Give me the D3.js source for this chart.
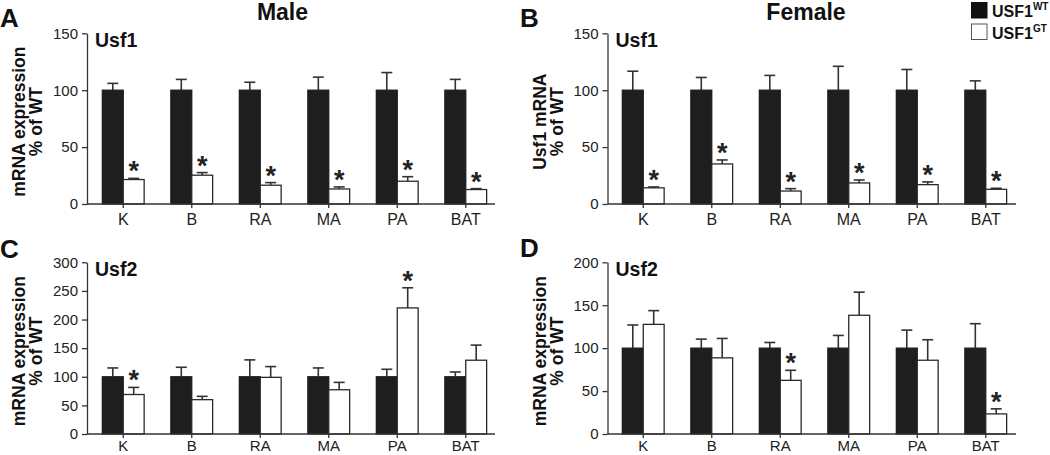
<!DOCTYPE html>
<html><head><meta charset="utf-8">
<script src="https://cdn.jsdelivr.net/npm/d3@7"></script>
<style>
html,body{margin:0;padding:0;background:#fff;}
svg{display:block;font-family:"Liberation Sans",Arial,Helvetica,sans-serif;}
</style></head>
<body>
<svg id="chart" width="1050" height="455"></svg>
<script>
// ---- data ----
const categories = ["K","B","RA","MA","PA","BAT"];
const seriesNames = ["USF1", "USF1"];
const seriesSup = ["WT", "GT"];

// A: Male Usf1
const maleUsf1WT = [100,100,100,100,100,100];
const maleUsf1WTerr = [6,9.5,7,11.5,15.5,9.5];
const maleUsf1GT = [21.5,25.3,16.5,13.2,20,12.7];
const maleUsf1GTerr = [1,2.3,2.3,1.8,4,0.8];
const maleUsf1Sig = [1,1,1,1,1,1];

// B: Female Usf1
const femaleUsf1WT = [100,100,100,100,100,100];
const femaleUsf1WTerr = [16.7,11.2,13,21,18.2,8.2];
const femaleUsf1GT = [14.2,35.2,11.4,18.5,17,12.9];
const femaleUsf1GTerr = [0.8,3.5,2.1,2.6,2.4,0.9];
const femaleUsf1Sig = [1,1,1,1,1,1];

// C: Male Usf2
const maleUsf2WT = [100,100,100,100,100,100];
const maleUsf2WTerr = [15.4,16.6,29.5,15.4,13.1,8.4];
const maleUsf2GT = [69,60,99,77.3,220.3,128.9];
const maleUsf2GTerr = [12.4,5.8,18.8,12.9,35.2,26.4];
const maleUsf2Sig = [1,0,0,0,1,0];

// D: Female Usf2
const femaleUsf2WT = [100,100,100,100,100,100];
const femaleUsf2WTerr = [27,10.5,6.6,14.8,21,28.5];
const femaleUsf2GT = [127.7,88.7,62.5,138.3,85.9,23.4];
const femaleUsf2GTerr = [16,22.6,11.7,26.9,23.9,5.9];
const femaleUsf2Sig = [0,0,1,0,0,1];

const ticksUsf1 = [0,50,100,150];
const ticksMaleUsf2 = [0,50,100,150,200,250,300];
const ticksFemaleUsf2 = [0,50,100,150,200];

// ---- drawing ----
const svg = d3.select("#chart");
const ink = "#1e1e1e";

function panel(o){
  const g = svg.append("g");
  const x = d3.scaleBand().domain(categories).range(o.xr).paddingInner(0.39).paddingOuter(0.195);
  const sub = d3.scaleBand().domain([0,1]).range([0, x.bandwidth()]);
  const y = d3.scaleLinear().domain([0, o.max]).range(o.yr);

  const rows = categories.map((c,i)=>({c, i, vals:[o.wt[i], o.gt[i]], errs:[o.wtErr[i], o.gtErr[i]], sig:o.sig[i]}));
  rows.forEach(r=>{
    [0,1].forEach(s=>{
      const bx = x(r.c) + sub(s);
      const bw = sub.bandwidth();
      const cx = bx + bw/2;
      const top = y(r.vals[s] + r.errs[s]);
      g.append("line").attr("x1",cx).attr("x2",cx).attr("y1",y(r.vals[s])).attr("y2",top)
        .attr("stroke","#333").attr("stroke-width",1.6);
      g.append("line").attr("x1",cx-5.5).attr("x2",cx+5.5).attr("y1",top).attr("y2",top)
        .attr("stroke","#333").attr("stroke-width",1.6);
      g.append("rect").attr("x",bx).attr("y",y(r.vals[s])).attr("width",bw)
        .attr("height",y(0)-y(r.vals[s]))
        .attr("fill", s===0 ? ink : "#fff")
        .attr("stroke", s===0 ? ink : "#2a2a2a").attr("stroke-width", 1.3);
      if(s===1 && r.sig){
        g.append("text").attr("x",cx).attr("y",top+2).attr("text-anchor","middle")
          .attr("font-size",27).attr("font-weight","bold").attr("fill","#222").text("*");
      }
    });
  });

  const ya = g.append("g").attr("transform",`translate(${o.x0},0)`)
    .call(d3.axisLeft(y).tickValues(o.ticks).tickSize(5).tickPadding(4).tickSizeOuter(0));
  ya.select(".domain").attr("stroke","#333").attr("stroke-width",1.3);
  ya.selectAll(".tick line").attr("stroke","#333").attr("stroke-width",1.3);
  ya.selectAll(".tick text").attr("font-size",15).attr("fill","#222")
    .attr("font-family","'Liberation Sans',Arial,sans-serif");

  const xa = g.append("g").attr("transform",`translate(0,${o.yr[0]})`)
    .call(d3.axisBottom(x).tickSize(4).tickPadding(o.xPad).tickSizeOuter(0));
  xa.select(".domain").remove();
  xa.selectAll(".tick line").attr("stroke","#333").attr("stroke-width",1.3);
  xa.selectAll(".tick text").attr("font-size",o.xFont).attr("fill","#222")
    .attr("font-family","'Liberation Sans',Arial,sans-serif");
  g.append("line").attr("x1",o.x0).attr("x2",o.axisEnd).attr("y1",o.yr[0]).attr("y2",o.yr[0])
    .attr("stroke","#333").attr("stroke-width",1.3);

  g.append("text").attr("x",o.x0+8).attr("y",o.yr[1]+14).attr("font-size",19.5)
    .attr("font-weight","bold").attr("fill","#111").text(o.gene);

  const yl = g.append("g").attr("transform",`translate(${o.x0},${(o.yr[0]+o.yr[1])/2+3}) rotate(-90)`);
  yl.append("text").attr("x",0).attr("y",-62).attr("text-anchor","middle")
    .attr("font-size",17.5).attr("font-weight","bold").attr("fill","#111").text(o.ylab[0]);
  yl.append("text").attr("x",0).attr("y",-45).attr("text-anchor","middle")
    .attr("font-size",17.5).attr("font-weight","bold").attr("fill","#111").text(o.ylab[1]);

  svg.append("text").attr("x",o.letterPos[0]).attr("y",o.letterPos[1]).attr("font-size",26)
    .attr("font-weight","bold").attr("fill","#111").text(o.letter);
}

panel({x0:87, xr:[89,500], axisEnd:495, yr:[204,33.3], max:150, ticks:ticksUsf1, xPad:6, xFont:16,
  wt:maleUsf1WT, wtErr:maleUsf1WTerr, gt:maleUsf1GT, gtErr:maleUsf1GTerr, sig:maleUsf1Sig,
  gene:"Usf1", ylab:["mRNA expression","% of WT"], letter:"A", letterPos:[0,26.5]});
panel({x0:607.5, xr:[609,1020], axisEnd:1016, yr:[204,33.3], max:150, ticks:ticksUsf1, xPad:6, xFont:16,
  wt:femaleUsf1WT, wtErr:femaleUsf1WTerr, gt:femaleUsf1GT, gtErr:femaleUsf1GTerr, sig:femaleUsf1Sig,
  gene:"Usf1", ylab:["Usf1 mRNA","% of WT"], letter:"B", letterPos:[520,26.5]});
panel({x0:87, xr:[89,500], axisEnd:495, yr:[434,262.3], max:300, ticks:ticksMaleUsf2, xPad:2, xFont:15,
  wt:maleUsf2WT, wtErr:maleUsf2WTerr, gt:maleUsf2GT, gtErr:maleUsf2GTerr, sig:maleUsf2Sig,
  gene:"Usf2", ylab:["mRNA expression","% of WT"], letter:"C", letterPos:[0,258]});
panel({x0:607.5, xr:[609,1020], axisEnd:1016, yr:[434,262.3], max:200, ticks:ticksFemaleUsf2, xPad:2, xFont:15,
  wt:femaleUsf2WT, wtErr:femaleUsf2WTerr, gt:femaleUsf2GT, gtErr:femaleUsf2GTerr, sig:femaleUsf2Sig,
  gene:"Usf2", ylab:["mRNA expression","% of WT"], letter:"D", letterPos:[520,257]});

svg.append("text").attr("x",282.5).attr("y",19.5).attr("text-anchor","middle")
  .attr("font-size",23).attr("font-weight","bold").attr("fill","#111").text("Male");
svg.append("text").attr("x",806).attr("y",19.5).attr("text-anchor","middle")
  .attr("font-size",23).attr("font-weight","bold").attr("fill","#111").text("Female");

const lg = svg.append("g");
seriesNames.forEach((n,i)=>{
  const yy = 2 + i*21.5;
  lg.append("rect").attr("x",971.5).attr("y",yy+0.5).attr("width",15.5).attr("height",15.5)
    .attr("fill", i===0 ? "#111" : "#fff").attr("stroke", i===0 ? "#111" : "#555").attr("stroke-width",1);
  const t = lg.append("text").attr("x",992).attr("y",yy+15).attr("font-size",16)
    .attr("font-weight","bold").attr("fill","#111")
    .attr("font-family","'Liberation Sans Narrow','Liberation Sans',Arial,sans-serif");
  t.append("tspan").text(n);
  t.append("tspan").attr("dy",-7).attr("font-size",10).text(seriesSup[i]);
});
</script>
</body></html>
